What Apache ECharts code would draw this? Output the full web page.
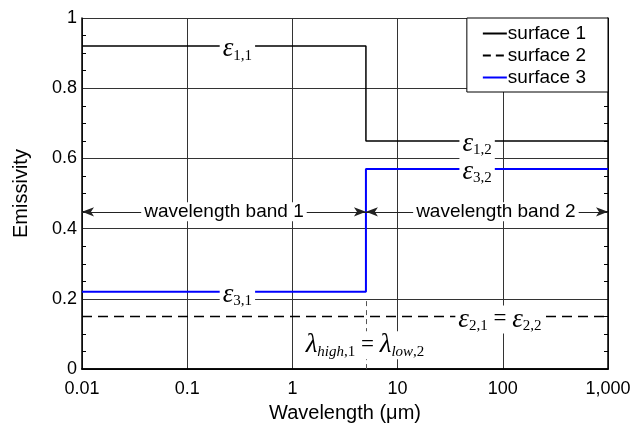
<!DOCTYPE html>
<html style="height: 100%">
<head>
    <meta charset="utf-8">
    <title>Emissivity</title>
    <script src="https://cdn.jsdelivr.net/npm/echarts@6/dist/echarts.min.js"></script>
</head>
<body style="height: 100%; margin: 0">
<div id="main" style="width: 634px; height: 428px"></div>

<script type="text/javascript">
    // band edges in wavelength (um) and emissivity per band
    var bandEdges = [0.01, 5, 1000];
    var surfaceNames = ['surface 1', 'surface 2', 'surface 3'];
    var surface1 = [0.92, 0.65];
    var surface2 = [0.15, 0.15];
    var surface3 = [0.22, 0.57];
    var bandArrowLevel = 0.448;

    var sans = 'Liberation Sans, Arial, sans-serif';
    var serif = 'Liberation Serif, Times New Roman, serif';

    // turn per-band values into a stepped line
    function stepData(vals) {
        var pts = [];
        for (var i = 0; i < vals.length; i++) {
            pts.push([bandEdges[i], vals[i]]);
            pts.push([bandEdges[i + 1], vals[i]]);
        }
        return pts;
    }

    function fmtX(v) {
        var r = Math.round(v * 100) / 100;
        return r >= 1000 ? r.toLocaleString('en-US') : String(r);
    }

    var rich = {
        e: {fontFamily: serif, fontStyle: 'italic', fontSize: 27, lineHeight: 28, verticalAlign: 'middle', color: '#000'},
        s: {fontFamily: serif, fontSize: 15, lineHeight: 15, verticalAlign: 'bottom', color: '#000'},
        si: {fontFamily: serif, fontStyle: 'italic', fontSize: 15, lineHeight: 15, verticalAlign: 'bottom', color: '#000'},
        o: {fontFamily: serif, fontSize: 23, lineHeight: 28, verticalAlign: 'middle', color: '#000'}
    };

    function note(x, y, text, dy) {
        return {
            value: [x, y],
            label: {
                show: true, position: 'inside', formatter: text,
                offset: [0, dy || 0],
                backgroundColor: '#fff', padding: [0, 3, 0, 3],
                fontFamily: sans, fontSize: 19, color: '#000', rich: rich
            }
        };
    }

    var myChart = echarts.init(document.getElementById('main'));

    var frameAxis = {
        axisLine: {show: true, lineStyle: {color: '#000', width: 1.5}},
        splitLine: {show: false},
        axisLabel: {show: false},
        axisTick: {show: false, inside: true}
    };

    var option = {
        animation: false,
        backgroundColor: '#fff',
        grid: {left: 82, right: 26, top: 18, bottom: 57},
        legend: {
            data: [
                {name: surfaceNames[0]},
                {name: surfaceNames[1], lineStyle: {type: [8, 5]}},
                {name: surfaceNames[2]}
            ],
            orient: 'vertical',
            right: 26, top: 18,
            backgroundColor: '#fff',
            borderColor: '#000', borderWidth: 1, borderRadius: 0,
            padding: [6, 22, 5, 15],
            itemGap: 3, itemWidth: 24, itemHeight: 12,
            itemStyle: {opacity: 0},
            textStyle: {fontFamily: sans, fontSize: 19, color: '#000', padding: [0, 0, 0, -4]},
            z: 10
        },
        xAxis: [{
            type: 'log', logBase: 10, min: 0.01, max: 1000,
            name: 'Wavelength (\u03bcm)', nameLocation: 'middle', nameGap: 28,
            nameTextStyle: {fontFamily: sans, fontSize: 20, color: '#000'},
            axisLine: {show: true, lineStyle: {color: '#000', width: 1.5}},
            axisTick: {show: false},
            axisLabel: {fontFamily: sans, fontSize: 18, color: '#000', margin: 11,
                formatter: function (v) { return fmtX(v); }},
            splitLine: {show: true, lineStyle: {color: '#333', width: 1}}
        }, Object.assign({type: 'log', logBase: 10, min: 0.01, max: 1000, position: 'top'}, frameAxis)],
        yAxis: [{
            type: 'value', min: 0, max: 1, interval: 0.2,
            name: 'Emissivity', nameLocation: 'middle', nameGap: 51,
            nameTextStyle: {fontFamily: sans, fontSize: 20, color: '#000'},
            axisLine: {show: true, lineStyle: {color: '#000', width: 1.5}},
            axisTick: {show: false, inside: true},
            minorTick: {show: true, splitNumber: 4, length: 4, lineStyle: {color: '#000'}},
            axisLabel: {fontFamily: sans, fontSize: 18, color: '#000', margin: 5,
                formatter: function (v) { return String(Math.round(v * 10) / 10); }},
            splitLine: {show: true, lineStyle: {color: '#333', width: 1}}
        }, Object.assign({type: 'value', min: 0, max: 1, interval: 0.2, position: 'right',
            minorTick: {show: true, splitNumber: 4, length: 4, lineStyle: {color: '#000'}}}, frameAxis)],
        series: [
            {
                name: surfaceNames[0], type: 'line', data: stepData(surface1), symbol: 'none',
                lineStyle: {color: '#000', width: 1.5}, itemStyle: {color: '#000'}, z: 3
            },
            {
                name: surfaceNames[1], type: 'line', data: stepData(surface2), symbol: 'none',
                lineStyle: {color: '#000', width: 1.5, type: [10, 6]}, itemStyle: {color: '#000'}, z: 3
            },
            {
                name: surfaceNames[2], type: 'line', data: stepData(surface3), symbol: 'none',
                lineStyle: {color: '#0000ff', width: 2}, itemStyle: {color: '#0000ff'}, z: 3
            },
            {
                // band arrows
                type: 'line', data: [], silent: true, z: 4,
                markLine: {
                    silent: true, animation: false,
                    label: {show: false},
                    data: [
                        [{coord: [bandEdges[0], bandArrowLevel], symbol: 'arrow', symbolSize: [7, 12]},
                         {coord: [bandEdges[1], bandArrowLevel], symbol: 'arrow', symbolSize: [7, 12]}],
                        [{coord: [bandEdges[1], bandArrowLevel], symbol: 'arrow', symbolSize: [7, 12]},
                         {coord: [bandEdges[2], bandArrowLevel], symbol: 'arrow', symbolSize: [7, 12]}]
                    ],
                    lineStyle: {color: '#222', width: 1, type: 'solid'},
                    itemStyle: {color: '#000'}
                }
            },
            {
                // band boundary marker
                type: 'line', data: [], silent: true, z: 2,
                markLine: {
                    silent: true, animation: false, symbol: 'none',
                    label: {show: false},
                    data: [[{coord: [bandEdges[1], 0]}, {coord: [bandEdges[1], 0.2]}]],
                    lineStyle: {color: '#555', width: 1, type: [5, 4]}
                }
            },
            {
                type: 'scatter', symbol: 'circle', symbolSize: 1, silent: true, z: 6,
                itemStyle: {color: 'rgba(0,0,0,0)', opacity: 1},
                data: [
                    note(0.3, 0.92, '{e|\u03b5}{s|1,1}', 3),
                    note(57, 0.65, '{e|\u03b5}{s|1,2}', 3),
                    note(57, 0.57, '{e|\u03b5}{s|3,2}', 3),
                    note(0.3, 0.22, '{e|\u03b5}{s|3,1}', 3),
                    note(94, 0.15, '{e|\u03b5}{s|2,1}{o| = }{e|\u03b5}{s|2,2}', 3),
                    note(4.9, 0.068, '{e|\u03bb}{si|high}{s|,1}{o| = }{e|\u03bb}{si|low}{s|,2}', 0),
                    note(0.2236, bandArrowLevel, 'wavelength band 1', 0),
                    note(86, bandArrowLevel, 'wavelength band 2', 0)
                ]
            }
        ]
    };
    myChart.setOption(option, true);
</script>
</body>
</html>
